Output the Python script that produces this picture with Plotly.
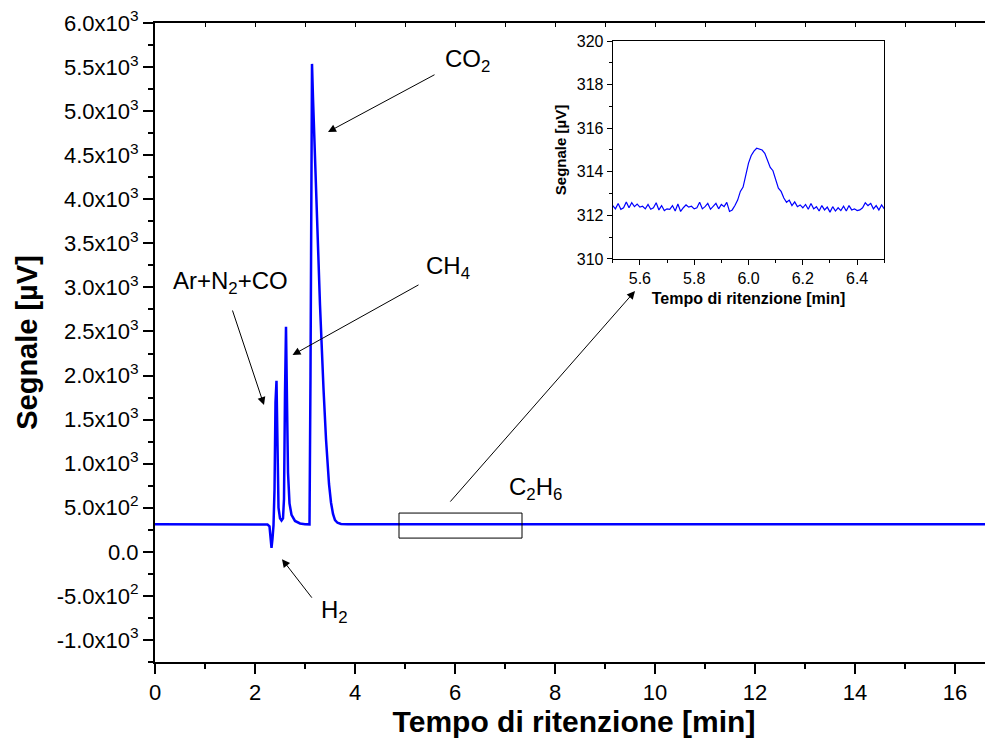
import plotly.graph_objects as go

FONT = "Liberation Sans, Arial, sans-serif"

# ---- main chromatogram (time in min, signal in µV) ----
peak_t = [0.0, 1.0, 2.0, 2.25, 2.29, 2.31, 2.33, 2.35, 2.37, 2.39, 2.41, 2.43, 2.45,
          2.47, 2.50, 2.53, 2.56, 2.58, 2.60, 2.62, 2.64, 2.66, 2.69, 2.73, 2.80,
          2.90, 3.00, 3.09, 3.11, 3.13, 3.14, 3.16, 3.20, 3.25, 3.30, 3.37, 3.42,
          3.48, 3.52, 3.56, 3.60, 3.65, 3.72, 3.85, 4.00, 5.00, 5.49]
peak_y = [312, 312, 312, 310, 290, 200, 45, 150, 300, 700, 1700, 1940, 1200,
          500, 380, 355, 380, 600, 1800, 2553, 1700, 900, 550, 420, 350,
          322, 314, 312, 2000, 5200, 5536, 5150, 4450, 3600, 2800, 1850, 1280,
          770, 560, 430, 360, 330, 316, 313, 312, 312, 312]
tail_t = [6.51, 7.0, 10.0, 14.0, 17.0]
tail_y = [312, 312, 312, 312, 312]

# ---- inset detail (C2H6 region) ----
inset_t = [round(5.50 + 0.01 * i, 2) for i in range(101)]
inset_y = [312.45, 312.30, 312.55, 312.28, 312.35, 312.62, 312.35, 312.58, 312.40, 312.52,
           312.38, 312.42, 312.30, 312.50, 312.28, 312.35, 312.58, 312.25, 312.45, 312.22,
           312.30, 312.28, 312.45, 312.20, 312.52, 312.18, 312.35, 312.48, 312.38, 312.42,
           312.30, 312.35, 312.60, 312.30, 312.40, 312.55, 312.28, 312.42, 312.55, 312.30,
           312.50, 312.40, 312.60, 312.18, 312.25, 312.45, 312.70, 313.10, 313.30, 313.85,
           314.40, 314.75, 314.95, 315.08, 315.05, 315.00, 314.85, 314.50, 314.20, 314.05,
           313.70, 313.25, 313.10, 312.80, 312.60, 312.70, 312.45, 312.62, 312.40, 312.48,
           312.35, 312.50, 312.28, 312.55, 312.30, 312.40, 312.20, 312.45, 312.25, 312.38,
           312.15, 312.40, 312.20, 312.35, 312.22, 312.42, 312.20, 312.45, 312.25, 312.30,
           312.22, 312.25, 312.35, 312.58, 312.45, 312.55, 312.30, 312.45, 312.25, 312.48,
           312.30]

main_t = peak_t + inset_t + tail_t
main_y = peak_y + inset_y + tail_y

y_tickvals = [-1000, -500, 0, 500, 1000, 1500, 2000, 2500, 3000, 3500, 4000, 4500, 5000, 5500, 6000]
y_ticktext = ["-1.0x10<sup>3</sup>", "-5.0x10<sup>2</sup>", "0.0", "5.0x10<sup>2</sup>",
              "1.0x10<sup>3</sup>", "1.5x10<sup>3</sup>", "2.0x10<sup>3</sup>", "2.5x10<sup>3</sup>",
              "3.0x10<sup>3</sup>", "3.5x10<sup>3</sup>", "4.0x10<sup>3</sup>", "4.5x10<sup>3</sup>",
              "5.0x10<sup>3</sup>", "5.5x10<sup>3</sup>", "6.0x10<sup>3</sup>"]
x_tickvals = [0, 2, 4, 6, 8, 10, 12, 14, 16]
inset_xvals = [5.6, 5.8, 6.0, 6.2, 6.4]
inset_xtext = ["5.6", "5.8", "6.0", "6.2", "6.4"]
inset_yvals = [310, 312, 314, 316, 318, 320]

XMAX = 16.76

fig = go.Figure()
fig.add_trace(go.Scatter(x=main_t, y=main_y, mode="lines",
                         line=dict(color="#0000FF", width=2.5), xaxis="x", yaxis="y",
                         showlegend=False, hoverinfo="skip"))
fig.add_trace(go.Scatter(x=inset_t, y=inset_y, mode="lines",
                         line=dict(color="#0000FF", width=1.2), xaxis="x2", yaxis="y2",
                         showlegend=False, hoverinfo="skip"))
# dummy trace so the top tick axis is drawn
fig.add_trace(go.Scatter(x=[0], y=[None], xaxis="x3", yaxis="y", showlegend=False,
                         hoverinfo="skip"))

ax_common = dict(showgrid=False, zeroline=False, showline=True, linecolor="black",
                 tickcolor="black", color="black", automargin=False,
                 ticklabeloverflow="allow")

# the page body has an 8 px margin, so the figure is sized to fit the window
fig.update_layout(
    width=985, height=733,
    margin=dict(l=147, r=0, t=15, b=79, autoexpand=False),
    paper_bgcolor="white", plot_bgcolor="white",
    font=dict(family=FONT, color="black"),
    xaxis=dict(**ax_common, range=[0, XMAX], domain=[0, 1], linewidth=2,
               tickmode="array", tickvals=x_tickvals,
               ticks="outside", ticklen=10, tickwidth=2,
               minor=dict(tickmode="linear", tick0=0, dtick=1, ticks="outside",
                          ticklen=5, tickwidth=2, tickcolor="black"),
               tickfont=dict(size=22),
               title=dict(text="<b>Tempo di ritenzione [min]</b>", font=dict(size=30), standoff=6),
               mirror=True),
    yaxis=dict(**ax_common, range=[-1250, 6000], domain=[0, 1], linewidth=2,
               tickmode="array", tickvals=y_tickvals, ticktext=y_ticktext,
               ticks="outside", ticklen=10, tickwidth=2,
               minor=dict(tickmode="linear", tick0=0, dtick=250, ticks="outside",
                          ticklen=5, tickwidth=2, tickcolor="black"),
               tickfont=dict(size=22),
               title=dict(text="<b>Segnale [µV]</b>", font=dict(size=29), standoff=10)),
    xaxis3=dict(overlaying="x", side="top", range=[0, XMAX], showgrid=False, zeroline=False,
                showline=False, ticks="inside", ticklen=4, tickwidth=1, tickcolor="black",
                tickmode="linear", tick0=0, dtick=1, showticklabels=False, automargin=False),
    xaxis2=dict(**ax_common, domain=[0.5462, 0.8703], anchor="y2", range=[5.5, 6.5],
                linewidth=1, mirror=True,
                tickmode="array", tickvals=inset_xvals, ticktext=inset_xtext,
                ticks="outside", ticklen=5, tickwidth=1,
                minor=dict(tickmode="linear", tick0=5.5, dtick=0.1, ticks="outside",
                           ticklen=3, tickwidth=1, tickcolor="black"),
                tickfont=dict(size=16),
                title=dict(text="<b>Tempo di ritenzione [min]</b>", font=dict(size=16), standoff=6)),
    yaxis2=dict(**ax_common, domain=[0.6307, 0.9718], anchor="x2", range=[310, 320],
                linewidth=1, mirror=True,
                tickmode="array", tickvals=inset_yvals,
                ticks="outside", ticklen=5, tickwidth=1,
                minor=dict(tickmode="linear", tick0=310, dtick=1, ticks="outside",
                           ticklen=3, tickwidth=1, tickcolor="black"),
                tickfont=dict(size=16),
                title=dict(text="<b>Segnale [µV]</b>", font=dict(size=15), standoff=6)),
)

# labels
labels = [
    ("CO<sub>2</sub>", 6.24, 5570),
    ("Ar+N<sub>2</sub>+CO", 1.5, 3060),
    ("CH<sub>4</sub>", 5.86, 3230),
    ("C<sub>2</sub>H<sub>6</sub>", 7.6, 720),
    ("H<sub>2</sub>", 3.58, -680),
]
for txt, lx, ly in labels:
    fig.add_annotation(x=lx, y=ly, xref="x", yref="y", text=txt, showarrow=False,
                       font=dict(size=24, family=FONT, color="black"),
                       xanchor="center", yanchor="middle")

# arrows: (head_x, head_y, tail_x, tail_y)
arrows = [
    (3.46, 4764, 5.62, 5422),
    (2.18, 1665, 1.54, 2755),
    (2.75, 2233, 5.30, 3038),
    (2.54, -83, 3.16, -537),
    (9.60, 2959, 5.88, 553),
]
for hx, hy, tx, ty in arrows:
    fig.add_annotation(x=hx, y=hy, ax=tx, ay=ty, xref="x", yref="y", axref="x", ayref="y",
                       text="", showarrow=True, arrowhead=2, arrowsize=1.6, arrowwidth=1,
                       arrowcolor="black")

# zoom box around C2H6 region
fig.add_shape(type="rect", xref="x", yref="y", x0=4.88, x1=7.34, y0=156, y1=440,
              line=dict(color="black", width=1), fillcolor="rgba(0,0,0,0)")

fig.write_html("out.html")
